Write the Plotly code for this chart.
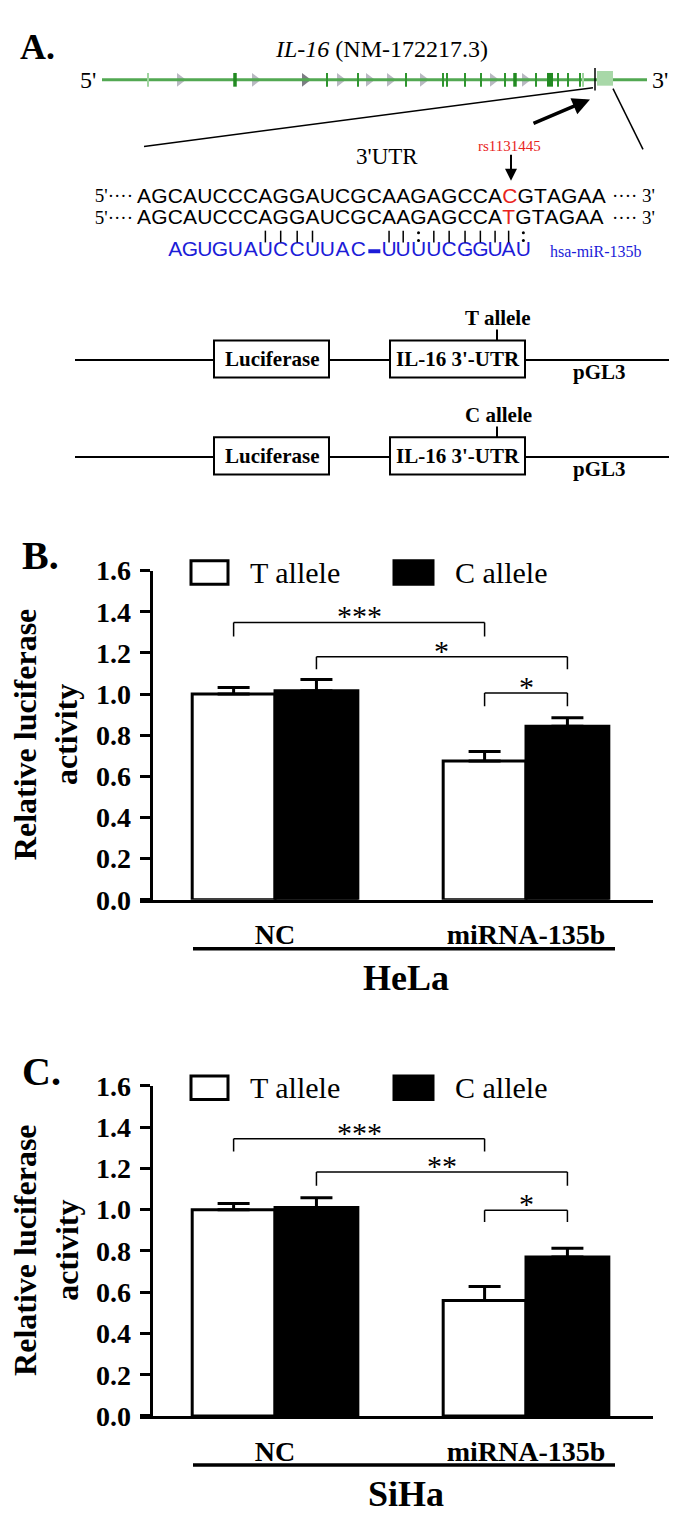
import plotly.graph_objects as go

W, H = 677, 1519
SERIF = "Liberation Serif"
SANS = "Liberation Sans"

# ---------------- data ----------------
gene_title = "<i>IL-16</i> (NM-172217.3)"
snp_id = "rs1131445"
utr_c = "AGCAUCCCAGGAUCGCAAGAGCCACGTAGAA"
utr_t = "AGCAUCCCAGGAUCGCAAGAGCCATGTAGAA"
snp_index = 24
mir_name = "hsa-miR-135b"
mir_seed_part = "AGUGUAUCCUUAC"   # under target positions 2..14
mir_tail_part = "UUUUCGGUAU"      # under target positions 16..25
pair_index = [8, 9, 10, 11, 16, 17, 18, 19, 20, 21, 22, 23, 24, 25]
pair_symbol = ["|", "|", "|", "|", "|", "|", ":", "|", "|", "|", "|", "|", "|", ":"]

groups = ["NC", "miRNA-135b"]
alleles = ["T allele", "C allele"]

hela_t = [1.00, 0.675]
hela_t_err = [0.032, 0.045]
hela_c = [1.016, 0.843]
hela_c_err = [0.055, 0.042]
hela_stars = ["***", "*", "*"]

siha_t = [1.00, 0.56]
siha_t_err = [0.030, 0.067]
siha_c = [1.011, 0.770]
siha_c_err = [0.047, 0.043]
siha_stars = ["***", "**", "*"]

# gene model marks (pixel positions along the drawn transcript)
exon_x = [140, 227, 319, 350, 398, 435, 439, 457, 473, 497, 507, 528, 542, 550, 560, 572, 575]
exon_kind = ["light", "thick", "n", "n", "n", "n", "n", "n", "n", "n", "thick", "n", "block", "n", "n", "n", "light"]
intron_arrow_x = [172, 247, 297, 332, 361, 382, 415, 485, 517]
intron_arrow_dark = [297]

fig = go.Figure()
shapes = []
annots = []


def txt(x, y, s, size, family=SERIF, color="black", xanchor="center", yanchor="middle", **kw):
    annots.append(dict(x=x, y=y, xref="x", yref="y", text=s, showarrow=False,
                       font=dict(family=family, size=size, color=color),
                       xanchor=xanchor, yanchor=yanchor, **kw))


def line(x0, y0, x1, y1, width=2, color="black", xref="x", yref="y"):
    shapes.append(dict(type="line", x0=x0, y0=y0, x1=x1, y1=y1, xref=xref, yref=yref,
                       line=dict(color=color, width=width)))


def rect(x0, y0, x1, y1, fill="white", width=2, color="black"):
    shapes.append(dict(type="rect", x0=x0, y0=y0, x1=x1, y1=y1, xref="x", yref="y",
                       fillcolor=fill, line=dict(color=color, width=width)))


# ---------------- panel A ----------------
txt(10, 24, "<b>A.</b>", 36, xanchor="left")
txt(373, 27, gene_title, 24)
txt(80, 58, "5'", 24)
txt(652, 58, "3'", 24)

line(94, 58, 639, 58, width=3, color="#52a852")
for xv, kind in zip(exon_x, exon_kind):
    if kind == "light":
        line(xv, 51, xv, 65, width=2, color="#9fd49f")
    elif kind == "thick":
        line(xv, 51, xv, 65, width=3.5, color="#218a21")
    elif kind == "block":
        line(xv, 51, xv, 65, width=6, color="#218a21")
    else:
        line(xv, 51, xv, 65, width=2, color="#2f952f")
fig.add_trace(go.Scatter(
    x=intron_arrow_x, y=[58] * len(intron_arrow_x), mode="markers", xaxis="x", yaxis="y",
    marker=dict(symbol="triangle-right", size=12,
                color=["#7d7d84" if xv in intron_arrow_dark else "#b9b9c2" for xv in intron_arrow_x],
                line=dict(width=0)),
    hoverinfo="skip", showlegend=False))
rect(589, 49, 605, 64, fill="#a8d8a8", width=0, color="#a8d8a8")
fig.add_trace(go.Scatter(x=[596], y=[57], mode="markers", xaxis="x", yaxis="y",
                         marker=dict(symbol="triangle-right", size=7, color="black"),
                         hoverinfo="skip", showlegend=False))
line(587, 46, 587, 69, width=1.5)
line(585, 66, 136, 126, width=1.5)
line(605, 67, 635, 129, width=1.5)

annots.append(dict(x=582, y=78, ax=524, ay=103, xref="x", yref="y", axref="x", ayref="y",
                   text="", showarrow=True, arrowhead=2, arrowsize=1, arrowwidth=3.5, arrowcolor="black"))
txt(501, 126, snp_id, 15, color="#e8241c")
annots.append(dict(x=503, y=161, ax=503, ay=133, xref="x", yref="y", axref="x", ayref="y",
                   text="", showarrow=True, arrowhead=2, arrowsize=1.2, arrowwidth=2, arrowcolor="black"))
txt(379, 136, "3'UTR", 23)

# sequence rows, letters placed by Arial advance widths
AW = {"A": 0.667, "G": 0.778, "C": 0.722, "U": 0.722, "T": 0.611}
EM = 21.2
X0 = 129


def centers(s):
    out, acc = [], X0
    for ch in s:
        w = AW[ch] * EM
        out.append(acc + w / 2)
        acc += w
    return out


for seq, yrow in ((utr_c, 178), (utr_t, 200)):
    cxs = centers(seq) + [125, 604]
    chars = list(seq) + ["5'····", "···· 3'"]
    cols = ["#e8241c" if i == snp_index else "black" for i in range(len(seq))] + ["black", "black"]
    fams = [SANS] * len(seq) + [SERIF, SERIF]
    sizes = [21] * len(seq) + [19, 19]
    pos = ["middle center"] * len(seq) + ["middle left", "middle right"]
    fig.add_trace(go.Scatter(x=cxs, y=[yrow] * len(chars), text=chars, mode="text",
                             xaxis="x", yaxis="y", textposition=pos,
                             textfont=dict(family=fams, size=sizes, color=cols),
                             hoverinfo="skip", showlegend=False))

cx = centers(utr_t)
bar_x = [cx[i] for i, s in zip(pair_index, pair_symbol) if s == "|"]
wob_x = [cx[i] for i, s in zip(pair_index, pair_symbol) if s == ":"]
for xv in bar_x:
    line(xv, 212, xv, 224, width=1.5)
fig.add_trace(go.Scatter(x=wob_x * 2, y=[214] * len(wob_x) + [222] * len(wob_x), mode="markers",
                         xaxis="x", yaxis="y", marker=dict(size=3, color="black"),
                         hoverinfo="skip", showlegend=False))
mir_chars = list(mir_seed_part) + list(mir_tail_part)
mir_pos = [cx[i] for i in range(2, 2 + len(mir_seed_part))] + [cx[i] for i in range(16, 16 + len(mir_tail_part))]
fig.add_trace(go.Scatter(x=mir_pos, y=[233] * len(mir_chars), text=mir_chars, mode="text",
                         xaxis="x", yaxis="y", textposition="middle center",
                         textfont=dict(family=SANS, size=21, color="#1c1cd8"),
                         hoverinfo="skip", showlegend=False))
line(cx[15] - 6, 233, cx[15] + 6, 233, width=4, color="#1c1cd8")
txt(588, 233, mir_name, 16, color="#1c1cd8")

# reporter constructs
for yl, allele in ((344, "T allele"), (443, "C allele")):
    line(67, yl, 669, yl, width=2)
    rect(206, yl - 20, 321, yl + 18)
    rect(382, yl - 20, 517, yl + 18)
    txt(263.5, yl - 1, "<b>Luciferase</b>", 21)
    txt(449.5, yl - 1, "<b>IL-16 3'-UTR</b>", 21)
    line(489, yl - 31, 489, yl - 20, width=2)
    txt(490, yl - 43, f"<b>{allele}</b>", 21)
    txt(591, yl + 12, "<b>pGL3</b>", 21)

# ---------------- panels B and C ----------------
bar_pos = [-0.165, 0.165, 0.835, 1.165]  # T/C bar centres for NC and miRNA groups


def add_panel(n, t, t_err, c, c_err, stars, bracket_geo, cell, top_px, zero_px, letter):
    xa, ya = f"x{n}", f"y{n}"
    for vals, errs, fill, name in ((t, t_err, "white", alleles[0]), (c, c_err, "black", alleles[1])):
        fig.add_trace(go.Bar(
            x=groups, y=vals, name=name, xaxis=xa, yaxis=ya, offsetgroup=name,
            marker=dict(color=fill, line=dict(color="black", width=3)),
            error_y=dict(type="data", array=errs, arrayminus=[0] * len(errs), symmetric=False,
                         color="black", thickness=3, width=16),
            hoverinfo="skip", showlegend=False))
    fig.update_layout(**{
        f"xaxis{n}": dict(domain=[132 / W, 645 / W], anchor=ya, type="category", range=[-0.538, 1.506],
                          showline=True, linewidth=3, linecolor="black", ticks="", showgrid=False,
                          zeroline=False, ticklabelstandoff=8,
                          tickfont=dict(family=SERIF, size=28, color="black", weight="bold")),
        f"yaxis{n}": dict(domain=[1 - zero_px / H, 1 - top_px / H], anchor="free", position=142.5 / W,
                          range=[0, 1.6], dtick=0.2, tickformat=".1f", showline=True, linewidth=3,
                          linecolor="black", ticks="outside", ticklen=10, tickwidth=3, tickcolor="black",
                          showgrid=False, zeroline=False, ticklabelstandoff=3,
                          tickfont=dict(family=SERIF, size=28, color="black", weight="bold")),
    })
    for label, (i0, i1, ytop, ybot) in zip(stars, bracket_geo):
        x0, x1 = bar_pos[i0], bar_pos[i1]
        line(x0, ybot, x0, ytop, width=1.5, xref=xa, yref=ya)
        line(x0, ytop, x1, ytop, width=1.5, xref=xa, yref=ya)
        line(x1, ytop, x1, ybot, width=1.5, xref=xa, yref=ya)
        annots.append(dict(x=(x0 + x1) / 2, y=ytop, xref=xa, yref=ya, text=label, showarrow=False,
                           font=dict(family=SERIF, size=30, color="black"),
                           xanchor="center", yanchor="bottom", yshift=-12))
    # legend
    ly = top_px + 2
    rect(183, ly - 12, 220, ly + 12, fill="white", width=3)
    txt(240, ly, alleles[0], 30, xanchor="left")
    rect(386, ly - 12, 425, ly + 12, fill="black", width=3)
    txt(445, ly, alleles[1], 30, xanchor="left")
    # group underline and cell line
    line(185, zero_px + 50, 607, zero_px + 50, width=3.5)
    txt(398, zero_px + 80, f"<b>{cell}</b>", 36)
    txt(12, top_px - 15, f"<b>{letter}</b>", 40, xanchor="left")
    txt(38, (top_px + zero_px) / 2, "<b>Relative luciferase</b><br><b>activity</b>", 32, textangle=-90)


add_panel(2, hela_t, hela_t_err, hela_c, hela_c_err, hela_stars,
          [(0, 2, 1.348, 1.28), (1, 3, 1.181, 1.12), (2, 3, 1.005, 0.94)],
          "HeLa", 559, 895, "B.")
add_panel(3, siha_t, siha_t_err, siha_c, siha_c_err, siha_stars,
          [(0, 2, 1.344, 1.282), (1, 3, 1.182, 1.116), (2, 3, 0.997, 0.94)],
          "SiHa", 1085, 1422, "C.")

fig.update_layout(
    width=W, height=H, autosize=False,
    margin=dict(l=0, r=0, t=0, b=0),
    paper_bgcolor="white", plot_bgcolor="rgba(0,0,0,0)",
    barmode="group", bargap=0.34, bargroupgap=0,
    showlegend=False, hovermode=False,
    xaxis=dict(range=[0, W], domain=[0, 1], visible=False, fixedrange=True),
    yaxis=dict(range=[H, 0], domain=[0, 1], visible=False, fixedrange=True),
    shapes=shapes, annotations=annots,
)

fig.write_html("out.html")
